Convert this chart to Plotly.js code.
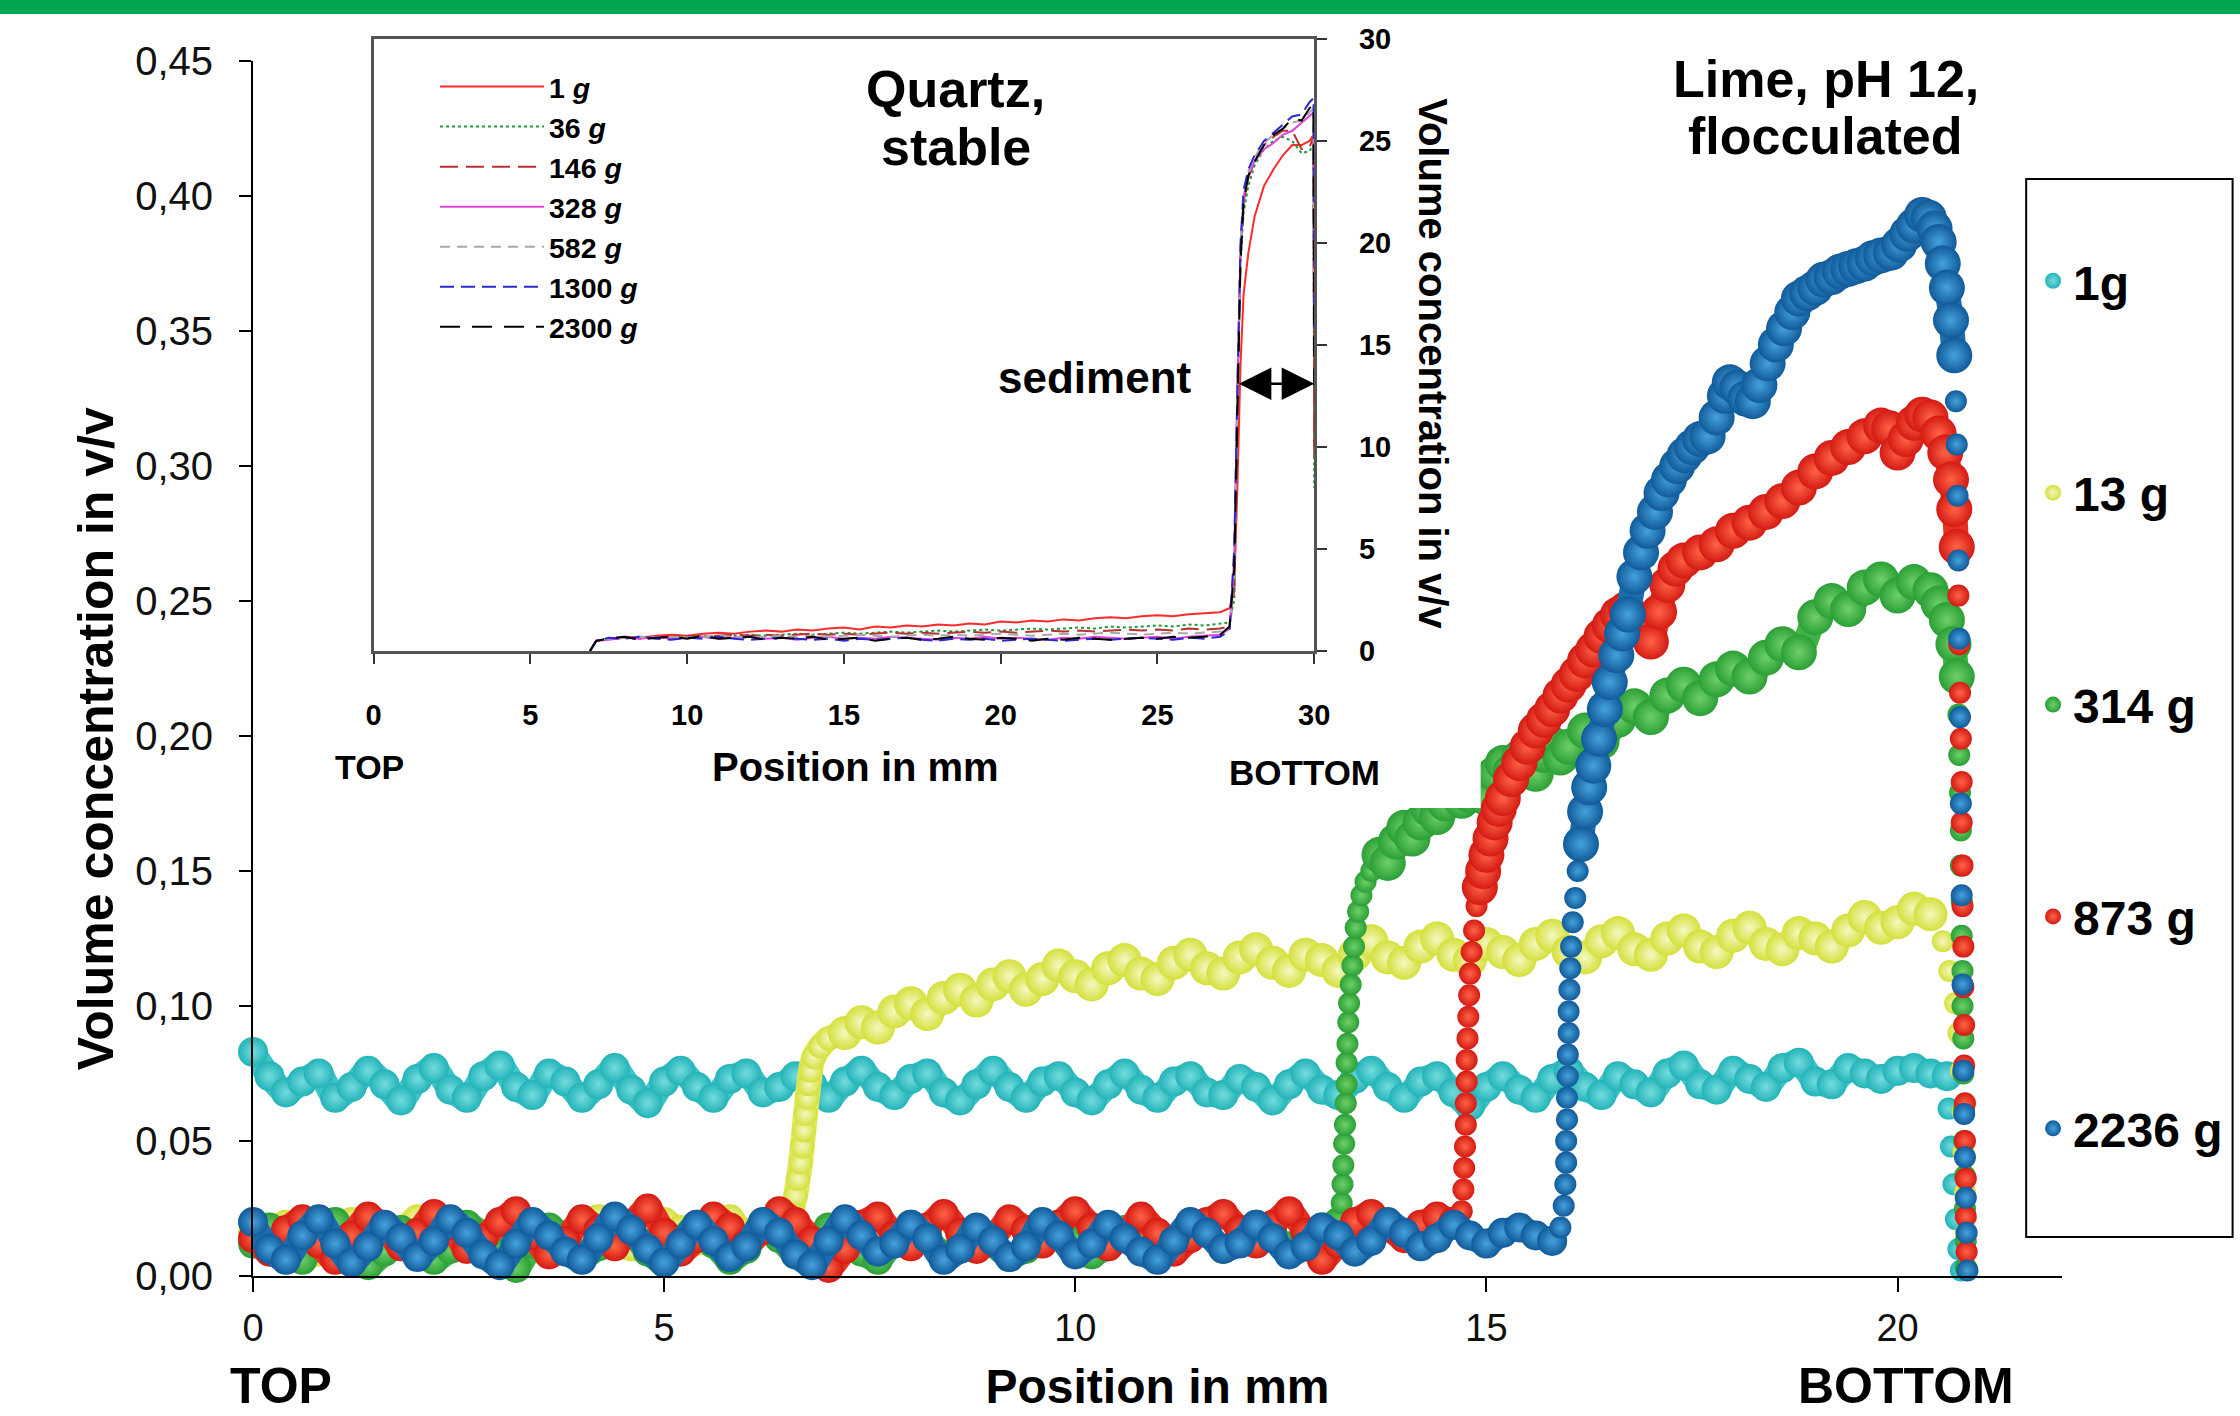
<!DOCTYPE html>
<html><head><meta charset="utf-8">
<script src="https://cdn.plot.ly/plotly-3.0.1.min.js"></script>
<style>html,body{margin:0;padding:0;background:#fff;}#chart{width:2240px;height:1416px;}</style>
</head><body><div id="chart"></div>
<script>
// ---------- Main chart (lime, flocculated) : position in mm vs volume concentration ----------
const gridPos = [0,0.2,0.4,0.6,0.8,1,1.2,1.4,1.6,1.8,
2,2.2,2.4,2.6,2.8,3,3.2,3.4,3.6,3.8,
4,4.2,4.4,4.6,4.8,5,5.2,5.4,5.6,5.8,
6,6.2,6.4,6.6,6.8,7,7.2,7.4,7.6,7.8,
8,8.2,8.4,8.6,8.8,9,9.2,9.4,9.6,9.8,
10,10.2,10.4,10.6,10.8,11,11.2,11.4,11.6,11.8,
12,12.2,12.4,12.6,12.8,13,13.2,13.4,13.6,13.8,
14,14.2,14.4,14.6,14.8,15,15.2,15.4,15.6,15.8,
16,16.2,16.4,16.6,16.8,17,17.2,17.4,17.6,17.8,
18,18.2,18.4,18.6,18.8,19,19.2,19.4,19.6,19.8,
20,20.2,20.4,20.6];

// 1 g (cyan)
const lime1gDropX = [20.62,20.65,20.68,20.71,20.74,20.77];
const lime1gY = [0.083,0.074,0.068,0.072,0.075,0.066,0.070,0.076,0.071,0.065,
0.073,0.077,0.069,0.066,0.074,0.078,0.070,0.067,0.075,0.072,
0.066,0.071,0.077,0.069,0.064,0.072,0.076,0.070,0.066,0.073,
0.075,0.068,0.070,0.074,0.071,0.066,0.072,0.076,0.070,0.067,
0.073,0.075,0.068,0.065,0.071,0.076,0.070,0.066,0.072,0.074,
0.068,0.065,0.071,0.075,0.069,0.066,0.072,0.074,0.068,0.067,
0.073,0.070,0.065,0.071,0.075,0.069,0.067,0.073,0.076,0.070,
0.066,0.072,0.074,0.068,0.063,0.070,0.074,0.069,0.066,0.073,
0.076,0.070,0.067,0.074,0.071,0.068,0.075,0.078,0.071,0.069,
0.076,0.073,0.070,0.077,0.079,0.072,0.071,0.077,0.075,0.073,
0.076,0.077,0.075,0.074,
0.062,0.048,0.034,0.021,0.010,0.002];

// 13 g (yellow)
const lime13gRiseX = [6.5,6.56,6.6,6.63,6.66,6.68,6.7,6.72,6.74,6.76,6.78,6.82,6.9,7];
const lime13gDropX = [20.55,20.63,20.7,20.74,20.77,20.79,20.8,20.82,20.83,20.84];
const lime13gY = [0.016,0.012,0.019,0.014,0.009,0.015,0.020,0.013,0.010,0.017,
0.021,0.014,0.011,0.018,0.015,0.009,0.014,0.019,0.016,0.012,
0.018,0.021,0.015,0.011,0.016,0.020,0.017,0.013,0.018,0.021,
0.016,0.019,0.020,
0.020,0.025,0.030,0.036,0.042,0.048,0.054,0.060,0.066,0.071,0.076,0.081,0.085,0.088,
0.090,0.094,0.092,0.098,0.101,0.097,0.103,0.106,0.102,0.108,
0.111,0.106,0.110,0.115,0.111,0.108,0.114,0.117,0.112,0.110,
0.116,0.119,0.114,0.112,0.118,0.121,0.116,0.113,0.119,0.117,
0.113,0.119,0.124,0.118,0.116,0.122,0.125,0.119,0.117,0.123,
0.120,0.117,0.123,0.126,0.120,0.118,0.124,0.127,0.121,0.119,
0.125,0.128,0.122,0.120,0.126,0.129,0.123,0.121,0.127,0.125,
0.122,0.128,0.133,0.129,0.131,0.136,0.134,
0.124,0.113,0.101,0.090,0.076,0.061,0.046,0.031,0.016,0.003];

// 314 g (green)
const lime314gRiseX = [13.24,13.25,13.26,13.27,13.28,13.29,13.3,13.3,13.31,13.32,13.33,13.35,13.37,13.39,13.41,13.44,13.48,13.53,13.6];
const lime314gUpX = [13.7,13.8,13.9,14,14.1,14.2,14.3,14.4,14.5,14.6,
14.7,14.8,14.9,15,15.1,15.2,15.3,15.4,15.5,15.6,
15.7,15.8,15.9,16,16.2,16.4,16.6,16.8,17,17.2,
17.4,17.6,17.8,18,18.2,18.4,18.6,18.8,19,19.2,
19.4,19.6,19.8,20,20.2,20.4,20.5,20.6,20.68,20.72];
const lime314gDropX = [20.74,20.75,20.76,20.77,20.77,20.78,20.78,20.79,20.79,20.8,20.8,20.81,20.81,20.82,20.82,20.83,20.83];
const lime314gY = [0.012,0.018,0.010,0.006,0.014,0.020,0.011,0.004,0.009,0.017,
0.013,0.006,0.010,0.019,0.015,0.008,0.003,0.012,0.018,0.014,
0.007,0.011,0.020,0.016,0.009,0.005,0.013,0.019,0.012,0.006,
0.010,0.017,0.014,0.008,0.011,0.018,0.015,0.009,0.006,0.013,
0.019,0.014,0.008,0.011,0.017,0.012,0.007,0.010,0.016,0.019,
0.013,0.008,0.011,0.017,0.014,0.009,0.012,0.018,0.016,0.010,
0.013,0.019,0.015,0.011,0.014,0.018,0.020,
0.027,0.034,0.041,0.049,0.056,0.064,0.071,0.079,0.086,0.094,0.101,0.108,0.115,0.122,0.129,0.135,0.141,0.146,0.150,
0.156,0.153,0.161,0.166,0.162,0.168,0.173,0.170,0.175,0.179,
0.176,0.178,0.181,0.177,0.186,0.190,0.187,0.192,0.190,0.186,
0.193,0.197,0.192,0.196,0.202,0.198,0.206,0.211,0.207,0.215,
0.219,0.214,0.221,0.225,0.222,0.229,0.234,0.231,0.244,0.250,
0.247,0.255,0.258,0.252,0.257,0.254,0.249,0.243,0.234,0.222,
0.208,0.193,0.179,0.165,0.152,0.139,0.126,0.113,0.100,0.088,0.075,0.062,0.050,0.037,0.025,0.013,0.003];

// 873 g (red)
const lime873gRiseX = [14.7,14.72,14.73,14.74,14.75,14.75,14.76,14.76,14.77,14.78,14.79,14.8,14.82,14.85,14.88];
const lime873gUpX = [14.92,14.96,15,15.05,15.1,15.15,15.2,
15.3,15.4,15.5,15.6,15.7,15.8,15.9,16,16.1,16.2,16.3,16.4,16.5,16.6,16.7,16.8,16.9,17,17.1,17.2,17.3,17.4,
17.6,17.8,18,18.2,18.4,18.6,18.8,19,19.2,19.4,19.6,19.8,
19.9,20,20.1,20.2,20.3,20.4,20.5,20.58,20.65,20.69,20.72];
const lime873gDropX = [20.74,20.75,20.76,20.77,20.78,20.78,20.79,20.79,20.8,20.8,20.81,20.81,20.82,20.82,20.83,20.83,20.84];
const lime873gY = [0.014,0.009,0.017,0.021,0.012,0.006,0.015,0.022,0.018,0.011,
0.016,0.023,0.019,0.010,0.014,0.020,0.024,0.015,0.008,0.013,
0.021,0.017,0.011,0.019,0.025,0.016,0.009,0.014,0.022,0.018,
0.012,0.017,0.024,0.020,0.013,0.003,0.010,0.019,0.022,0.015,
0.011,0.018,0.023,0.016,0.010,0.014,0.021,0.017,0.012,0.019,
0.024,0.018,0.011,0.015,0.022,0.016,0.009,0.014,0.020,0.023,
0.017,0.012,0.019,0.024,0.016,0.006,0.012,0.020,0.023,0.018,
0.014,0.019,0.022,0.020,
0.024,0.032,0.040,0.048,0.056,0.064,0.072,0.080,0.088,0.096,0.104,0.112,0.120,0.128,0.137,
0.144,0.150,0.156,0.162,0.168,0.173,0.177,0.184,0.190,0.196,
0.202,0.206,0.210,0.215,0.219,0.223,0.228,0.232,0.237,0.241,
0.245,0.247,0.244,0.239,0.235,0.246,0.256,0.262,0.265,0.268,
0.271,0.276,0.279,0.283,0.287,0.292,0.298,0.303,0.307,0.311,
0.315,0.314,0.305,0.310,0.316,0.319,0.318,0.312,0.305,0.295,
0.284,0.270,
0.252,0.234,0.216,0.199,0.183,0.168,0.152,0.137,0.122,0.107,0.093,0.078,0.064,0.050,0.036,0.022,0.009];

// 2236 g (blue)
const lime2236gRiseX = [15.9,15.94,15.96,15.97,15.97,15.98,15.98,15.99,15.99,16,16,16.01,16.02,16.03,16.05,16.08,16.11];
const lime2236gUpX = [16.15,16.2,16.25,16.3,16.37,16.44,16.5,16.58,16.65,16.72,
16.8,16.88,16.96,17.05,17.13,17.22,17.32,17.41,17.5,17.6,
17.69,17.8,17.9,17.96,18.05,18.15,18.24,18.32,18.42,18.52,
18.62,18.72,18.8,18.9,19,19.1,19.2,19.3,19.4,19.5,
19.6,19.7,19.8,19.92,20.02,20.12,20.2,20.3,20.38,20.45,
20.5,20.55,20.6,20.65,20.69];
const lime2236gDropX = [20.71,20.72,20.73,20.74,20.75,20.76,20.77,20.78,20.79,20.8,20.81,20.82,20.83,20.84,20.85];
const lime2236gY = [0.020,0.010,0.006,0.015,0.021,0.012,0.005,0.011,0.019,0.014,
0.007,0.013,0.021,0.016,0.008,0.004,0.012,0.020,0.015,0.009,
0.006,0.014,0.022,0.017,0.010,0.005,0.012,0.019,0.013,0.007,
0.011,0.020,0.016,0.008,0.004,0.013,0.021,0.015,0.009,0.012,
0.019,0.014,0.006,0.010,0.018,0.013,0.007,0.011,0.020,0.015,
0.008,0.012,0.019,0.014,0.009,0.006,0.013,0.020,0.016,0.010,
0.012,0.019,0.014,0.008,0.011,0.018,0.015,0.009,0.013,0.020,
0.016,0.011,0.014,0.019,0.015,0.012,0.016,0.018,0.015,0.013,
0.018,0.026,0.034,0.042,0.050,0.058,0.066,0.074,0.082,0.090,0.098,0.106,0.114,0.122,0.131,0.140,0.150,
0.160,0.172,0.181,0.189,0.199,0.210,0.220,0.230,0.238,0.245,
0.259,0.268,0.276,0.283,0.290,0.295,0.300,0.304,0.307,0.310,
0.311,0.318,0.326,0.331,0.329,0.325,0.324,0.330,0.338,0.345,
0.351,0.357,0.362,0.364,0.366,0.369,0.370,0.372,0.373,0.374,
0.375,0.377,0.378,0.379,0.382,0.386,0.389,0.393,0.392,0.388,
0.383,0.375,0.366,0.354,0.341,
0.324,0.308,0.289,0.265,0.236,0.207,0.175,0.141,0.108,0.076,0.060,0.044,0.029,0.016,0.002];

const limeNames = ['1g','13 g','314 g','873 g','2236 g'];
const mainXTicks = [0,5,10,15,20];
const mainYTicks = [0,0.05,0.1,0.15,0.2,0.25,0.3,0.35,0.4,0.45];

// ---------- Inset chart (quartz, stable) ----------
const insetPos = [6.9,7.1,7.5,8,8.5,9,9.5,10,10.5,11,11.5,12,12.5,13,13.5,14,14.5,15,15.5,16,16.5,17,17.5,18,18.5,19,19.5,20,20.5,21,21.5,22,22.5,23,23.5,24,24.5,25,25.5,26,26.5,27,27.3,27.45,27.55,27.65,27.75,27.9,28.1,28.4,28.7,29,29.3,29.6,29.85,29.98,30];
const quartz1g = [0,0.5,0.6,0.7,0.65,0.75,0.8,0.75,0.85,0.9,0.85,0.95,1.0,0.95,1.05,1.0,1.1,1.15,1.05,1.2,1.15,1.25,1.2,1.3,1.25,1.35,1.3,1.45,1.4,1.5,1.45,1.55,1.5,1.6,1.65,1.6,1.7,1.75,1.7,1.8,1.85,1.9,2.1,3.0,8.0,14.0,17.5,19.5,21.3,22.8,23.6,24.3,24.8,24.8,25.0,25.3,9.5];
const quartz36g = [0,0.5,0.6,0.65,0.6,0.7,0.65,0.7,0.75,0.7,0.75,0.8,0.75,0.8,0.85,0.8,0.85,0.9,0.85,0.9,0.95,0.9,0.95,1.0,0.95,1.0,1.05,1.0,1.05,1.1,1.05,1.1,1.15,1.1,1.2,1.15,1.2,1.25,1.2,1.3,1.25,1.35,1.4,2.5,12.0,19.0,21.5,22.8,23.8,24.6,25.0,25.2,25.0,24.4,24.5,24.8,8.0];
const quartz146g = [0,0.5,0.6,0.65,0.7,0.65,0.7,0.75,0.7,0.75,0.8,0.75,0.8,0.75,0.8,0.85,0.8,0.85,0.8,0.85,0.9,0.85,0.9,0.85,0.9,0.95,0.9,0.95,0.9,0.95,1.0,0.95,1.0,0.95,1.0,1.05,1.0,1.05,1.0,1.1,1.05,1.1,1.2,3.0,12.5,19.5,22.0,23.2,24.0,24.8,25.2,25.5,25.5,24.6,24.7,25.2,10.0];
const quartz328g = [0,0.5,0.55,0.65,0.6,0.7,0.6,0.65,0.7,0.6,0.65,0.7,0.6,0.65,0.55,0.65,0.7,0.6,0.65,0.6,0.7,0.65,0.6,0.55,0.65,0.6,0.7,0.6,0.65,0.6,0.55,0.65,0.6,0.7,0.65,0.6,0.65,0.7,0.6,0.7,0.75,0.8,1.1,4.5,13.0,19.5,22.3,23.3,24.0,24.6,24.9,25.3,25.5,25.9,26.2,26.4,20.0];
const quartz582g = [0,0.5,0.6,0.65,0.7,0.65,0.7,0.65,0.7,0.75,0.7,0.65,0.7,0.75,0.7,0.75,0.7,0.75,0.8,0.75,0.7,0.75,0.8,0.75,0.8,0.75,0.8,0.85,0.8,0.75,0.8,0.85,0.8,0.85,0.9,0.85,0.8,0.85,0.9,0.85,0.9,0.95,1.1,3.5,12.8,19.8,22.5,23.5,24.2,24.9,25.3,25.6,25.9,26.0,26.4,26.6,18.0];
const quartz1300g = [0,0.5,0.65,0.6,0.7,0.6,0.55,0.65,0.6,0.7,0.6,0.55,0.6,0.65,0.6,0.55,0.6,0.5,0.6,0.55,0.6,0.65,0.55,0.5,0.6,0.55,0.6,0.5,0.55,0.6,0.55,0.5,0.55,0.6,0.55,0.6,0.65,0.6,0.55,0.65,0.6,0.7,1.0,5.0,13.5,20.0,22.6,23.6,24.3,25.0,25.4,25.8,26.2,26.3,26.9,27.1,15.0];
const quartz2300g = [0,0.5,0.6,0.7,0.55,0.65,0.7,0.6,0.75,0.6,0.65,0.7,0.55,0.65,0.6,0.7,0.55,0.6,0.65,0.5,0.6,0.65,0.55,0.6,0.7,0.6,0.55,0.65,0.6,0.5,0.6,0.55,0.65,0.6,0.55,0.6,0.65,0.6,0.7,0.65,0.7,0.8,1.2,4.0,12.0,19.0,22.0,23.3,24.0,24.8,25.3,25.6,26.1,26.0,26.6,26.8,13.0];
const quartzNames = ['1 <i>g</i>','36 <i>g</i>','146 <i>g</i>','328 <i>g</i>','582 <i>g</i>','1300 <i>g</i>','2300 <i>g</i>'];
const insetTicks = [0,5,10,15,20,25,30];

// ---------- build traces ----------
const F = 'Liberation Sans, Arial, Helvetica, sans-serif';
const FLAT = 30, UPPER = 36, DOT = 22;

// segs: [{x: positions, band: bool, size: marker size}] ; ys: full value array for the series
function limeSeries(name, grp, ys, segs, base, mid, hi){
  const xs = [], sizes = [], tubeX = [], tubeY = [];
  let k = 0, prevBand = false;
  segs.forEach(s => {
    if (s.band && tubeX.length && !prevBand) { tubeX.push(null); tubeY.push(null); }
    s.x.forEach((xv) => {
      xs.push(xv); sizes.push(s.size);
      if (s.band) { tubeX.push(xv); tubeY.push(ys[k]); }
      k++;
    });
    prevBand = s.band;
  });
  const tube = {type:'scatter', mode:'lines', x:tubeX, y:tubeY, connectgaps:false, cliponaxis:false,
    showlegend:false, legend:'legend', legendgroup:grp, hoverinfo:'skip',
    line:{color:mid, width:25, shape:'spline', smoothing:0.8}};
  const dots = {type:'scatter', mode:'markers', name:name, x:xs, y:ys, cliponaxis:false,
    legend:'legend', legendgroup:grp, hoverinfo:'skip',
    marker:{size:sizes, opacity:1, color:base, gradient:{type:'radial', color:hi}, line:{width:0}}};
  return [tube, dots];
}

const traces = [];
traces.push(...limeSeries(limeNames[0], 'a', lime1gY,
  [{x:gridPos, band:true, size:FLAT}, {x:lime1gDropX, band:false, size:DOT}],
  '#22b3b8', '#3cc4c7', '#74dcde'));
traces.push(...limeSeries(limeNames[1], 'b', lime13gY,
  [{x:gridPos.slice(0,33), band:true, size:FLAT}, {x:lime13gRiseX, band:true, size:24},
   {x:gridPos.slice(36,103), band:true, size:34}, {x:lime13gDropX, band:false, size:DOT}],
  '#d4e03a', '#e1ea5c', '#f5f8c2'));
traces.push(...limeSeries(limeNames[2], 'c', lime314gY,
  [{x:gridPos.slice(0,67), band:true, size:FLAT}, {x:lime314gRiseX, band:false, size:DOT},
   {x:lime314gUpX, band:true, size:UPPER}, {x:lime314gDropX, band:false, size:DOT}],
  '#2a9f36', '#3fb446', '#6fd068'));
traces.push(...limeSeries(limeNames[3], 'd', lime873gY,
  [{x:gridPos.slice(0,74), band:true, size:FLAT}, {x:lime873gRiseX, band:false, size:DOT},
   {x:lime873gUpX, band:true, size:UPPER}, {x:lime873gDropX, band:false, size:DOT}],
  '#d41a13', '#e8301f', '#ff6446'));
traces.push(...limeSeries(limeNames[4], 'e', lime2236gY,
  [{x:gridPos.slice(0,80), band:true, size:FLAT}, {x:lime2236gRiseX, band:false, size:DOT},
   {x:lime2236gUpX, band:true, size:UPPER}, {x:lime2236gDropX, band:false, size:DOT}],
  '#115a9a', '#1b6cad', '#45a2dc'));

const qSeries = [quartz1g, quartz36g, quartz146g, quartz328g, quartz582g, quartz1300g, quartz2300g];
const qStyle = [
  {color:'#ff2a2a', dash:'solid'},
  {color:'#1f9a3a', dash:'dot'},
  {color:'#b83030', dash:'18px,8px'},
  {color:'#e045d8', dash:'solid'},
  {color:'#a8a8a8', dash:'10px,7px'},
  {color:'#2a2ad0', dash:'14px,7px'},
  {color:'#000000', dash:'20px,12px'}
];
qSeries.forEach((ys, i) => {
  traces.push({type:'scatter', mode:'lines', name:quartzNames[i], x:insetPos, y:ys,
    xaxis:'x2', yaxis:'y2', legend:'legend2', hoverinfo:'skip',
    line:{color:qStyle[i].color, width:2, dash:qStyle[i].dash}});
});

const layout = {
  width:2240, height:1416,
  margin:{l:253, r:173, t:30, b:140, pad:0},
  paper_bgcolor:'#ffffff', plot_bgcolor:'rgba(0,0,0,0)',
  separators:',.',
  font:{family:F, color:'#000'},
  showlegend:true,
  xaxis:{domain:[0,1], range:[0,22], tickvals:mainXTicks, ticks:'outside', ticklen:14, tickwidth:2, tickcolor:'#000',
    showline:true, linecolor:'#000', linewidth:2, showgrid:false, zeroline:false,
    tickfont:{size:38, family:F, color:'#111'}, ticklabelstandoff:3,
    title:{text:'<b>Position in mm</b>', font:{size:48, family:F, color:'#000'}, standoff:22}},
  yaxis:{domain:[0,0.9751], range:[0,0.45], tickvals:mainYTicks, tickformat:'.2f', ticks:'outside', ticklen:12, tickwidth:2, tickcolor:'#000',
    showline:true, linecolor:'#000', linewidth:2, showgrid:false, zeroline:false,
    tickfont:{size:40, family:F, color:'#111'}, ticklabelstandoff:18},
  xaxis2:{domain:[0.0667,0.5866], anchor:'y2', range:[0,30], tickvals:insetTicks, ticks:'outside', ticklen:10, tickwidth:2, tickcolor:'#333',
    showline:true, mirror:true, linecolor:'#555', linewidth:3, showgrid:false, zeroline:false,
    tickfont:{size:29, family:F, color:'#000', weight:'bold'}, ticklabelstandoff:26},
  yaxis2:{domain:[0.5016,0.9928], anchor:'x2', side:'right', range:[0,30], tickvals:insetTicks, ticks:'outside', ticklen:10, tickwidth:2, tickcolor:'#333',
    showline:true, mirror:true, linecolor:'#555', linewidth:3, showgrid:false, zeroline:false,
    tickfont:{size:29, family:F, color:'#000', weight:'bold'}, ticklabelstandoff:26},
  legend:{x:0.984, xanchor:'left', y:0.829, yanchor:'top', bgcolor:'rgba(0,0,0,0)', borderwidth:0,
    font:{size:48, family:F, color:'#000', weight:'bold'}, tracegroupgap:146.5, itemsizing:'trace'},
  legend2:{x:0.1006, xanchor:'left', y:0.9747, yanchor:'top', bgcolor:'rgba(0,0,0,0)', borderwidth:0,
    font:{size:28.5, family:F, color:'#000', weight:'bold'}, itemwidth:104, tracegroupgap:0},
  shapes:[
    {type:'rect', xref:'paper', yref:'paper', x0:-0.15, x1:1.1, y0:1.0128, y1:1.03, fillcolor:'#00a651', line:{width:0}, layer:'above'},
    {type:'rect', xref:'paper', yref:'paper', x0:0.9802, x1:1.0943, y0:0.0313, y1:0.8804, fillcolor:'rgba(0,0,0,0)', line:{color:'#000', width:2}},
    {type:'rect', xref:'x', yref:'y', x0:13.18, x1:14.93, y0:0.1733, y1:0.205, fillcolor:'#ffffff', line:{width:0}, layer:'above'}
  ],
  annotations:[
    {xref:'paper', yref:'paper', x:-0.0866, y:0.431, text:'<b>Volume concentration in v/v</b>', textangle:-90, showarrow:false, xanchor:'center', yanchor:'middle', font:{size:50, family:F, color:'#000'}},
    {xref:'paper', yref:'paper', x:0.8693, y:0.9607, text:'<b>Lime, pH 12,</b>', showarrow:false, xanchor:'center', yanchor:'middle', font:{size:52, family:F, color:'#000'}},
    {xref:'paper', yref:'paper', x:0.8693, y:0.9149, text:'<b>flocculated</b>', showarrow:false, xanchor:'center', yanchor:'middle', font:{size:52, family:F, color:'#000'}},
    {xref:'paper', yref:'paper', x:0.3886, y:0.953, text:'<b>Quartz,</b>', showarrow:false, xanchor:'center', yanchor:'middle', font:{size:52, family:F, color:'#000'}},
    {xref:'paper', yref:'paper', x:0.3886, y:0.9061, text:'<b>stable</b>', showarrow:false, xanchor:'center', yanchor:'middle', font:{size:52, family:F, color:'#000'}},
    {xref:'paper', yref:'paper', x:0.4653, y:0.7215, text:'<b>sediment</b>', showarrow:false, xanchor:'center', yanchor:'middle', font:{size:44, family:F, color:'#000'}},
    {xref:'x2', yref:'y2', x:30, y:13.1, axref:'x2', ayref:'y2', ax:27.55, ay:13.1, text:'', showarrow:true,
      arrowhead:2, arrowside:'end+start', arrowsize:2.6, arrowwidth:2.5, arrowcolor:'#000', standoff:0, startstandoff:0},
    {xref:'paper', yref:'paper', x:0.6522, y:0.7319, text:'<b>Volume concentration in v/v</b>', textangle:90, showarrow:false, xanchor:'center', yanchor:'middle', font:{size:40, family:F, color:'#000'}},
    {xref:'paper', yref:'paper', x:0.0645, y:0.4085, text:'<b>TOP</b>', showarrow:false, xanchor:'center', yanchor:'middle', font:{size:34, family:F, color:'#000'}},
    {xref:'paper', yref:'paper', x:0.333, y:0.4085, text:'<b>Position in mm</b>', showarrow:false, xanchor:'center', yanchor:'middle', font:{size:40, family:F, color:'#000'}},
    {xref:'paper', yref:'paper', x:0.581, y:0.4037, text:'<b>BOTTOM</b>', showarrow:false, xanchor:'center', yanchor:'middle', font:{size:35, family:F, color:'#000'}},
    {xref:'paper', yref:'paper', x:0.0154, y:-0.0883, text:'<b>TOP</b>', showarrow:false, xanchor:'center', yanchor:'middle', font:{size:50, family:F, color:'#000'}},
    {xref:'paper', yref:'paper', x:0.9135, y:-0.0883, text:'<b>BOTTOM</b>', showarrow:false, xanchor:'center', yanchor:'middle', font:{size:50, family:F, color:'#000'}}
  ]
};

Plotly.newPlot('chart', traces, layout, {staticPlot:true, displayModeBar:false});
</script></body></html>
